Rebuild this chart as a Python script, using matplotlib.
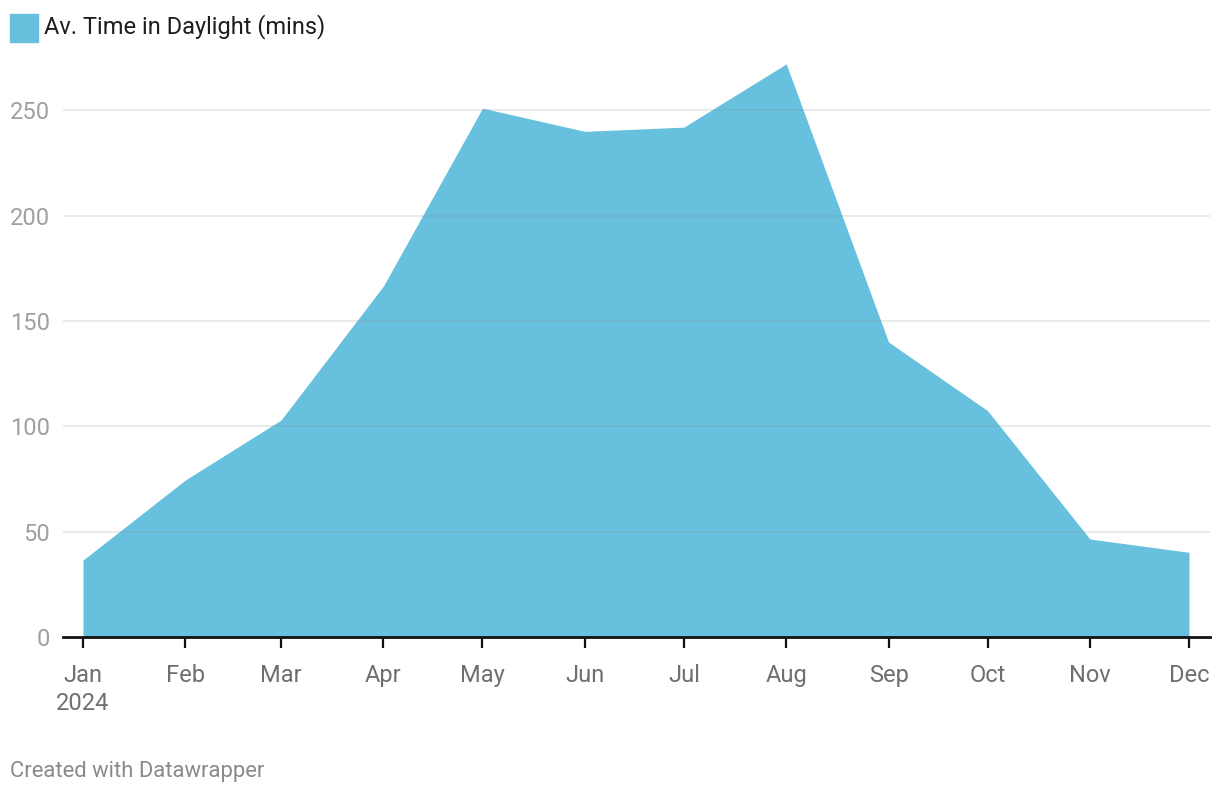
import matplotlib.pyplot as plt
import matplotlib.dates as mdates
from matplotlib.patches import Rectangle
import numpy as np
import datetime as dt

plt.rcParams['font.family'] = ['Roboto', 'DejaVu Sans']

# data (first of each month, 2024)
months = [dt.date(2024, m, 1) for m in range(1, 13)]
month_labels = ['Jan\n2024', 'Feb', 'Mar', 'Apr', 'May', 'Jun',
                'Jul', 'Aug', 'Sep', 'Oct', 'Nov', 'Dec']
daylight = [36.5, 74.5, 103, 166.6, 251, 240, 242, 272, 140, 107.4, 46.5, 40.2]
y_ticks = [0, 50, 100, 150, 200, 250]

fill_color = '#67c1de'

fig = plt.figure(figsize=(12.2, 7.94), dpi=100)
ax = fig.add_axes([63 / 1220, 157 / 794, (1210 - 63) / 1220, (637 - 57.6) / 794])

ax.set_axisbelow(False)
ax.fill_between(months, daylight, 0, color=fill_color, lw=0, zorder=1)
for t in y_ticks[1:]:
    ax.axhline(t, color='#888888', lw=1.2, alpha=0.2, zorder=2)

ax.set_ylim(0, 275)
ax.set_xlim(mdates.date2num(months[0]) - 6.06, mdates.date2num(months[-1]) + 6.36)

ax.set_xticks(months)
ax.set_xticklabels(month_labels, fontsize=17, color='#6f6f6f', linespacing=1.3)
ax.tick_params(axis='x', length=8, width=1.6, color='#111111', pad=11.5)

ax.set_yticks(y_ticks)
ax.set_yticklabels([str(t) for t in y_ticks], fontsize=17, color='#a0a0a0')
ax.tick_params(axis='y', length=0, pad=9.4)

for s in ['top', 'right', 'left']:
    ax.spines[s].set_visible(False)
ax.spines['bottom'].set_color('#111111')
ax.spines['bottom'].set_linewidth(2)
ax.spines['bottom'].set_zorder(3)

# legend
fig.patches.append(Rectangle((10 / 1220, 1 - 42 / 794), 28 / 1220, 28 / 794,
                             transform=fig.transFigure, color=fill_color))
fig.text(44 / 1220, 1 - 27 / 794, 'Av. Time in Daylight (mins)', fontsize=17,
         color='#1d1d1d', va='center', ha='left')

fig.text(10 / 1220, 1 - 771 / 794, 'Created with Datawrapper', fontsize=15.8,
         color='#8a8a8a', va='center', ha='left')

fig.savefig('out.png', dpi=100)
